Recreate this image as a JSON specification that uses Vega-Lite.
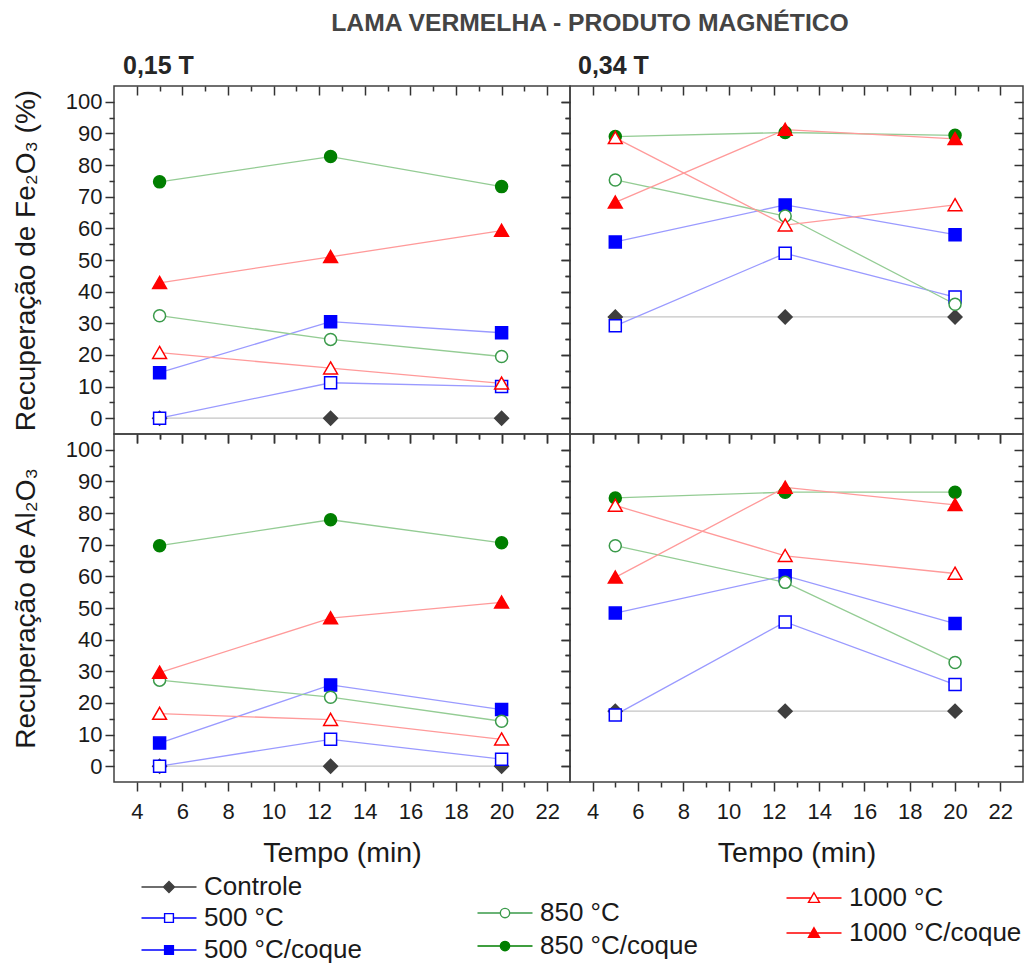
{
"$schema": "https://vega.github.io/schema/vega-lite/v6.json",
"padding": {"left": 11, "top": 10, "right": 2, "bottom": 2},
"background": "white",
"title": {"text": "LAMA VERMELHA - PRODUTO MAGNÉTICO", "font": "Liberation Sans", "fontSize": 24.7, "fontWeight": "bold", "color": "#444444", "anchor": "middle", "dx": 72, "offset": 18},
"config": {
  "view": {"stroke": "#404040", "strokeWidth": 1.5},
  "axis": {"domain": false, "grid": false, "tickColor": "#333333", "tickWidth": 1.5, "labelFont": "Liberation Sans", "labelFontSize": 22, "labelColor": "#1a1a1a", "titleFont": "Liberation Sans", "titleFontSize": 28, "titleFontWeight": "normal", "titleColor": "#1a1a1a"},
  "axisX": {"titleFontSize": 28.5},
  "legend": {"title": null, "padding": 0, "symbolSize": 121, "symbolStrokeWidth": 1.4, "symbolOffset": 28, "labelOffset": 22, "labelFont": "Liberation Sans", "labelFontSize": 26, "labelColor": "#1a1a1a", "labelLimit": 400},
  "title": {"font": "Liberation Sans"}
},
"datasets": {
"fe15": [
{"s":"Controle","t":5,"v":0},{"s":"Controle","t":12.5,"v":0},{"s":"Controle","t":20,"v":0},
{"s":"500 °C","t":5,"v":0},{"s":"500 °C","t":12.5,"v":11.2},{"s":"500 °C","t":20,"v":10},
{"s":"500 °C/coque","t":5,"v":14.4},{"s":"500 °C/coque","t":12.5,"v":30.5},{"s":"500 °C/coque","t":20,"v":27},
{"s":"850 °C","t":5,"v":32.4},{"s":"850 °C","t":12.5,"v":24.9},{"s":"850 °C","t":20,"v":19.5},
{"s":"850 °C/coque","t":5,"v":74.7},{"s":"850 °C/coque","t":12.5,"v":82.7},{"s":"850 °C/coque","t":20,"v":73.2},
{"s":"1000 °C","t":5,"v":20.7},{"s":"1000 °C","t":12.5,"v":15.8},{"s":"1000 °C","t":20,"v":11},
{"s":"1000 °C/coque","t":5,"v":42.8},{"s":"1000 °C/coque","t":12.5,"v":51},{"s":"1000 °C/coque","t":20,"v":59.3}
],
"fe34": [
{"s":"Controle","t":5,"v":32},{"s":"Controle","t":12.5,"v":32},{"s":"Controle","t":20,"v":32},
{"s":"500 °C","t":5,"v":29.2},{"s":"500 °C","t":12.5,"v":52.1},{"s":"500 °C","t":20,"v":38.3},
{"s":"500 °C/coque","t":5,"v":55.7},{"s":"500 °C/coque","t":12.5,"v":67.4},{"s":"500 °C/coque","t":20,"v":58},
{"s":"850 °C","t":5,"v":75.3},{"s":"850 °C","t":12.5,"v":63.9},{"s":"850 °C","t":20,"v":36},
{"s":"850 °C/coque","t":5,"v":89},{"s":"850 °C/coque","t":12.5,"v":90.3},{"s":"850 °C/coque","t":20,"v":89.4},
{"s":"1000 °C","t":5,"v":88.6},{"s":"1000 °C","t":12.5,"v":61},{"s":"1000 °C","t":20,"v":67.4},
{"s":"1000 °C/coque","t":5,"v":68.2},{"s":"1000 °C/coque","t":12.5,"v":91.2},{"s":"1000 °C/coque","t":20,"v":88.3}
],
"al15": [
{"s":"Controle","t":5,"v":0},{"s":"Controle","t":12.5,"v":0},{"s":"Controle","t":20,"v":0},
{"s":"500 °C","t":5,"v":0},{"s":"500 °C","t":12.5,"v":8.5},{"s":"500 °C","t":20,"v":2.2},
{"s":"500 °C/coque","t":5,"v":7.3},{"s":"500 °C/coque","t":12.5,"v":25.7},{"s":"500 °C/coque","t":20,"v":17.9},
{"s":"850 °C","t":5,"v":27.2},{"s":"850 °C","t":12.5,"v":21.8},{"s":"850 °C","t":20,"v":14.2},
{"s":"850 °C/coque","t":5,"v":69.7},{"s":"850 °C/coque","t":12.5,"v":77.9},{"s":"850 °C/coque","t":20,"v":70.6},
{"s":"1000 °C","t":5,"v":16.6},{"s":"1000 °C","t":12.5,"v":14.7},{"s":"1000 °C","t":20,"v":8.5},
{"s":"1000 °C/coque","t":5,"v":29.6},{"s":"1000 °C/coque","t":12.5,"v":46.8},{"s":"1000 °C/coque","t":20,"v":51.8}
],
"al34": [
{"s":"Controle","t":5,"v":17.4},{"s":"Controle","t":12.5,"v":17.4},{"s":"Controle","t":20,"v":17.4},
{"s":"500 °C","t":5,"v":16.2},{"s":"500 °C","t":12.5,"v":45.6},{"s":"500 °C","t":20,"v":25.8},
{"s":"500 °C/coque","t":5,"v":48.4},{"s":"500 °C/coque","t":12.5,"v":60.2},{"s":"500 °C/coque","t":20,"v":45.1},
{"s":"850 °C","t":5,"v":69.7},{"s":"850 °C","t":12.5,"v":58.1},{"s":"850 °C","t":20,"v":32.8},
{"s":"850 °C/coque","t":5,"v":84.8},{"s":"850 °C/coque","t":12.5,"v":86.6},{"s":"850 °C/coque","t":20,"v":86.6},
{"s":"1000 °C","t":5,"v":82.4},{"s":"1000 °C","t":12.5,"v":66.5},{"s":"1000 °C","t":20,"v":60.9},
{"s":"1000 °C/coque","t":5,"v":59.7},{"s":"1000 °C/coque","t":12.5,"v":88.1},{"s":"1000 °C/coque","t":20,"v":82.6}
]
},
"columns": 2,
"spacing": 0,
"bounds": "flush",
"resolve": {"scale": {"color": "independent", "shape": "independent", "fill": "independent", "stroke": "independent"}},
"concat": [
 {"width": 456, "height": 348,
  "title": {"text": "0,15 T", "anchor": "start", "frame": "group", "fontSize": 25, "fontWeight": "bold", "color": "#262626", "dx": 9, "offset": 6},
  "data": {"name": "fe15"},
  "resolve": {"axis": {"x": "independent", "y": "independent"}},
  "layer": [
   {"mark": {"type": "line", "strokeWidth": 1.3},
    "encoding": {
     "x": {"field": "t", "type": "quantitative", "scale": {"domain": [3, 23], "nice": false, "zero": false}, "axis": {"orient": "bottom", "values": [4,6,8,10,12,14,16,18,20,22], "tickSize": 9, "labels": false, "title": null}},
     "y": {"field": "v", "type": "quantitative", "scale": {"domain": [-5, 105], "nice": false, "zero": false}, "axis": {"orient": "left", "values": [0,10,20,30,40,50,60,70,80,90,100], "tickSize": 9, "labelPadding": 3, "title": "Recuperação de Fe₂O₃ (%)", "titlePadding": 25}},
     "color": {"field": "s", "type": "nominal", "scale": {"domain": ["Controle","500 °C","500 °C/coque","850 °C","850 °C/coque","1000 °C","1000 °C/coque"], "range": ["#c4c4c4","#9a9aff","#9a9aff","#94cc94","#94cc94","#ff9a9a","#ff9a9a"]}, "legend": null}
    }},
   {"mark": {"type": "point", "size": 144, "strokeWidth": 1.5, "opacity": 1},
    "encoding": {
     "x": {"field": "t", "type": "quantitative", "scale": {"domain": [3, 23], "nice": false, "zero": false}, "axis": {"orient": "top", "values": [4,6,8,10,12,14,16,18,20,22], "tickSize": -9, "labels": false, "title": null}},
     "y": {"field": "v", "type": "quantitative", "scale": {"domain": [-5, 105], "nice": false, "zero": false}, "axis": {"orient": "right", "values": [0,10,20,30,40,50,60,70,80,90,100], "tickSize": -9, "labels": false, "title": null}},
     "shape": {"field": "s", "type": "nominal", "scale": {"domain": ["Controle","500 °C","500 °C/coque","850 °C","850 °C/coque","1000 °C","1000 °C/coque"], "range": ["M-1.15,0L0,-1.15L1.15,0L0,1.15Z","square","square","circle","circle","M0,-1.05L1.15,0.95L-1.15,0.95Z","M0,-1.05L1.15,0.95L-1.15,0.95Z"]}, "legend": null},
     "fill": {"field": "s", "type": "nominal", "scale": {"domain": ["Controle","500 °C","500 °C/coque","850 °C","850 °C/coque","1000 °C","1000 °C/coque"], "range": ["#3f3f3f","#ffffff","#0000ff","#ffffff","#007f00","#ffffff","#ff0000"]}, "legend": null},
     "stroke": {"field": "s", "type": "nominal", "scale": {"domain": ["Controle","500 °C","500 °C/coque","850 °C","850 °C/coque","1000 °C","1000 °C/coque"], "range": ["#3f3f3f","#0000ff","#0000ff","#3a9a4a","#007f00","#ff0000","#ff0000"]}, "legend": null}
    }},
   {"mark": {"type": "point", "opacity": 0},
    "encoding": {
     "x": {"field": "t", "type": "quantitative", "scale": {"domain": [3, 23], "nice": false, "zero": false}, "axis": {"orient": "bottom", "values": [5,7,9,11,13,15,17,19,21], "tickSize": 5, "labels": false, "title": null}},
     "y": {"field": "v", "type": "quantitative", "scale": {"domain": [-5, 105], "nice": false, "zero": false}, "axis": {"orient": "left", "values": [5,15,25,35,45,55,65,75,85,95], "tickSize": 5, "labels": false, "title": null}}
    }},
   {"mark": {"type": "point", "opacity": 0},
    "encoding": {
     "x": {"field": "t", "type": "quantitative", "scale": {"domain": [3, 23], "nice": false, "zero": false}, "axis": {"orient": "top", "values": [5,7,9,11,13,15,17,19,21], "tickSize": -5, "labels": false, "title": null}},
     "y": {"field": "v", "type": "quantitative", "scale": {"domain": [-5, 105], "nice": false, "zero": false}, "axis": {"orient": "right", "values": [5,15,25,35,45,55,65,75,85,95], "tickSize": -5, "labels": false, "title": null}}
    }}
  ]},
 {"width": 453, "height": 348,
  "title": {"text": "0,34 T", "anchor": "start", "frame": "group", "fontSize": 25, "fontWeight": "bold", "color": "#262626", "dx": 8, "offset": 6},
  "data": {"name": "fe34"},
  "resolve": {"axis": {"x": "independent", "y": "independent"}},
  "layer": [
   {"mark": {"type": "line", "strokeWidth": 1.3},
    "encoding": {
     "x": {"field": "t", "type": "quantitative", "scale": {"domain": [3, 23], "nice": false, "zero": false}, "axis": {"orient": "bottom", "values": [4,6,8,10,12,14,16,18,20,22], "tickSize": 9, "labels": false, "title": null}},
     "y": {"field": "v", "type": "quantitative", "scale": {"domain": [-5, 105], "nice": false, "zero": false}, "axis": {"orient": "left", "values": [0,10,20,30,40,50,60,70,80,90,100], "tickSize": 9, "labels": false, "title": null}},
     "color": {"field": "s", "type": "nominal", "scale": {"domain": ["Controle","500 °C","500 °C/coque","850 °C","850 °C/coque","1000 °C","1000 °C/coque"], "range": ["#c4c4c4","#9a9aff","#9a9aff","#94cc94","#94cc94","#ff9a9a","#ff9a9a"]}, "legend": null}
    }},
   {"mark": {"type": "point", "size": 144, "strokeWidth": 1.5, "opacity": 1},
    "encoding": {
     "x": {"field": "t", "type": "quantitative", "scale": {"domain": [3, 23], "nice": false, "zero": false}, "axis": {"orient": "top", "values": [4,6,8,10,12,14,16,18,20,22], "tickSize": -9, "labels": false, "title": null}},
     "y": {"field": "v", "type": "quantitative", "scale": {"domain": [-5, 105], "nice": false, "zero": false}, "axis": {"orient": "right", "values": [0,10,20,30,40,50,60,70,80,90,100], "tickSize": -9, "labels": false, "title": null}},
     "shape": {"field": "s", "type": "nominal", "scale": {"domain": ["Controle","500 °C","500 °C/coque","850 °C","850 °C/coque","1000 °C","1000 °C/coque"], "range": ["M-1.15,0L0,-1.15L1.15,0L0,1.15Z","square","square","circle","circle","M0,-1.05L1.15,0.95L-1.15,0.95Z","M0,-1.05L1.15,0.95L-1.15,0.95Z"]}, "legend": null},
     "fill": {"field": "s", "type": "nominal", "scale": {"domain": ["Controle","500 °C","500 °C/coque","850 °C","850 °C/coque","1000 °C","1000 °C/coque"], "range": ["#3f3f3f","#ffffff","#0000ff","#ffffff","#007f00","#ffffff","#ff0000"]}, "legend": null},
     "stroke": {"field": "s", "type": "nominal", "scale": {"domain": ["Controle","500 °C","500 °C/coque","850 °C","850 °C/coque","1000 °C","1000 °C/coque"], "range": ["#3f3f3f","#0000ff","#0000ff","#3a9a4a","#007f00","#ff0000","#ff0000"]}, "legend": null}
    }},
   {"mark": {"type": "point", "opacity": 0},
    "encoding": {
     "x": {"field": "t", "type": "quantitative", "scale": {"domain": [3, 23], "nice": false, "zero": false}, "axis": {"orient": "bottom", "values": [5,7,9,11,13,15,17,19,21], "tickSize": 5, "labels": false, "title": null}},
     "y": {"field": "v", "type": "quantitative", "scale": {"domain": [-5, 105], "nice": false, "zero": false}, "axis": {"orient": "left", "values": [5,15,25,35,45,55,65,75,85,95], "tickSize": 5, "labels": false, "title": null}}
    }},
   {"mark": {"type": "point", "opacity": 0},
    "encoding": {
     "x": {"field": "t", "type": "quantitative", "scale": {"domain": [3, 23], "nice": false, "zero": false}, "axis": {"orient": "top", "values": [5,7,9,11,13,15,17,19,21], "tickSize": -5, "labels": false, "title": null}},
     "y": {"field": "v", "type": "quantitative", "scale": {"domain": [-5, 105], "nice": false, "zero": false}, "axis": {"orient": "right", "values": [5,15,25,35,45,55,65,75,85,95], "tickSize": -5, "labels": false, "title": null}}
    }}
  ]},
 {"width": 456, "height": 348,
  "data": {"name": "al15"},
  "resolve": {"axis": {"x": "independent", "y": "independent"}, "scale": {"shape": "independent", "fill": "independent", "stroke": "independent"}},
  "layer": [
   {"mark": {"type": "line", "strokeWidth": 1.3},
    "encoding": {
     "x": {"field": "t", "type": "quantitative", "scale": {"domain": [3, 23], "nice": false, "zero": false}, "axis": {"orient": "bottom", "values": [4,6,8,10,12,14,16,18,20,22], "tickSize": 9, "labelPadding": 10, "title": "Tempo (min)", "titlePadding": 16}},
     "y": {"field": "v", "type": "quantitative", "scale": {"domain": [-5, 105], "nice": false, "zero": false}, "axis": {"orient": "left", "values": [0,10,20,30,40,50,60,70,80,90,100], "tickSize": 9, "labelPadding": 3, "title": "Recuperação de Al₂O₃", "titlePadding": 25}},
     "color": {"field": "s", "type": "nominal", "scale": {"domain": ["Controle","500 °C","500 °C/coque","850 °C","850 °C/coque","1000 °C","1000 °C/coque"], "range": ["#c4c4c4","#9a9aff","#9a9aff","#94cc94","#94cc94","#ff9a9a","#ff9a9a"]}, "legend": null}
    }},
   {"transform": [{"filter": {"field": "s", "equal": "Controle"}}],
    "mark": {"type": "point", "size": 144, "strokeWidth": 1.5, "opacity": 1},
    "encoding": {
     "x": {"field": "t", "type": "quantitative", "scale": {"domain": [3, 23], "nice": false, "zero": false}, "axis": {"orient": "top", "values": [4,6,8,10,12,14,16,18,20,22], "tickSize": -9, "labels": false, "title": null}},
     "y": {"field": "v", "type": "quantitative", "scale": {"domain": [-5, 105], "nice": false, "zero": false}, "axis": {"orient": "right", "values": [0,10,20,30,40,50,60,70,80,90,100], "tickSize": -9, "labels": false, "title": null}},
     "shape": {"field": "s", "type": "nominal", "scale": {"domain": ["Controle", "~"], "range": ["M-1.15,0L0,-1.15L1.15,0L0,1.15Z","M-1.15,0L0,-1.15L1.15,0L0,1.15Z"]}, "legend": null},
     "fill": {"field": "s", "type": "nominal", "scale": {"domain": ["Controle"], "range": ["#3f3f3f"]}, "legend": {"orient": "none", "legendX": 14, "legendY": 440, "symbolType": "M-5,0H5M0,-1L1,0L0,1L-1,0Z"}},
     "stroke": {"field": "s", "type": "nominal", "scale": {"domain": ["Controle"], "range": ["#3f3f3f"]}, "legend": {"orient": "none", "legendX": 14, "legendY": 440, "symbolType": "M-5,0H5M0,-1L1,0L0,1L-1,0Z"}}
    }},
   {"transform": [{"filter": {"field": "s", "equal": "500 °C"}}],
    "mark": {"type": "point", "size": 144, "strokeWidth": 1.5, "opacity": 1},
    "encoding": {
     "x": {"field": "t", "type": "quantitative", "scale": {"domain": [3, 23], "nice": false, "zero": false}, "axis": null},
     "y": {"field": "v", "type": "quantitative", "scale": {"domain": [-5, 105], "nice": false, "zero": false}, "axis": null},
     "shape": {"field": "s", "type": "nominal", "scale": {"domain": ["500 °C", "~"], "range": ["square","square"]}, "legend": null},
     "fill": {"field": "s", "type": "nominal", "scale": {"domain": ["500 °C"], "range": ["#ffffff"]}, "legend": {"orient": "none", "legendX": 14, "legendY": 471, "symbolType": "M-5,0H-0.8M0.8,0H5M-0.8,-0.8H0.8V0.8H-0.8Z"}},
     "stroke": {"field": "s", "type": "nominal", "scale": {"domain": ["500 °C"], "range": ["#0000ff"]}, "legend": {"orient": "none", "legendX": 14, "legendY": 471, "symbolType": "M-5,0H-0.8M0.8,0H5M-0.8,-0.8H0.8V0.8H-0.8Z"}}
    }},
   {"transform": [{"filter": {"field": "s", "equal": "500 °C/coque"}}],
    "mark": {"type": "point", "size": 144, "strokeWidth": 1.5, "opacity": 1},
    "encoding": {
     "x": {"field": "t", "type": "quantitative", "scale": {"domain": [3, 23], "nice": false, "zero": false}, "axis": null},
     "y": {"field": "v", "type": "quantitative", "scale": {"domain": [-5, 105], "nice": false, "zero": false}, "axis": null},
     "shape": {"field": "s", "type": "nominal", "scale": {"domain": ["500 °C/coque", "~"], "range": ["square","square"]}, "legend": null},
     "fill": {"field": "s", "type": "nominal", "scale": {"domain": ["500 °C/coque"], "range": ["#0000ff"]}, "legend": {"orient": "none", "legendX": 14, "legendY": 503, "symbolType": "M-5,0H5M-0.8,-0.8H0.8V0.8H-0.8Z"}},
     "stroke": {"field": "s", "type": "nominal", "scale": {"domain": ["500 °C/coque"], "range": ["#0000ff"]}, "legend": {"orient": "none", "legendX": 14, "legendY": 503, "symbolType": "M-5,0H5M-0.8,-0.8H0.8V0.8H-0.8Z"}}
    }},
   {"transform": [{"filter": {"field": "s", "equal": "850 °C"}}],
    "mark": {"type": "point", "size": 144, "strokeWidth": 1.5, "opacity": 1},
    "encoding": {
     "x": {"field": "t", "type": "quantitative", "scale": {"domain": [3, 23], "nice": false, "zero": false}, "axis": null},
     "y": {"field": "v", "type": "quantitative", "scale": {"domain": [-5, 105], "nice": false, "zero": false}, "axis": null},
     "shape": {"field": "s", "type": "nominal", "scale": {"domain": ["850 °C", "~"], "range": ["circle","circle"]}, "legend": null},
     "fill": {"field": "s", "type": "nominal", "scale": {"domain": ["850 °C"], "range": ["#ffffff"]}, "legend": {"orient": "none", "legendX": 350, "legendY": 466, "symbolType": "M-5,0H-0.85M0.85,0H5M-0.85,0A0.85,0.85,0,1,1,0.85,0A0.85,0.85,0,1,1,-0.85,0Z"}},
     "stroke": {"field": "s", "type": "nominal", "scale": {"domain": ["850 °C"], "range": ["#3a9a4a"]}, "legend": {"orient": "none", "legendX": 350, "legendY": 466, "symbolType": "M-5,0H-0.85M0.85,0H5M-0.85,0A0.85,0.85,0,1,1,0.85,0A0.85,0.85,0,1,1,-0.85,0Z"}}
    }},
   {"transform": [{"filter": {"field": "s", "equal": "850 °C/coque"}}],
    "mark": {"type": "point", "size": 144, "strokeWidth": 1.5, "opacity": 1},
    "encoding": {
     "x": {"field": "t", "type": "quantitative", "scale": {"domain": [3, 23], "nice": false, "zero": false}, "axis": null},
     "y": {"field": "v", "type": "quantitative", "scale": {"domain": [-5, 105], "nice": false, "zero": false}, "axis": null},
     "shape": {"field": "s", "type": "nominal", "scale": {"domain": ["850 °C/coque", "~"], "range": ["circle","circle"]}, "legend": null},
     "fill": {"field": "s", "type": "nominal", "scale": {"domain": ["850 °C/coque"], "range": ["#007f00"]}, "legend": {"orient": "none", "legendX": 350, "legendY": 499, "symbolType": "M-5,0H5M-0.85,0A0.85,0.85,0,1,1,0.85,0A0.85,0.85,0,1,1,-0.85,0Z"}},
     "stroke": {"field": "s", "type": "nominal", "scale": {"domain": ["850 °C/coque"], "range": ["#007f00"]}, "legend": {"orient": "none", "legendX": 350, "legendY": 499, "symbolType": "M-5,0H5M-0.85,0A0.85,0.85,0,1,1,0.85,0A0.85,0.85,0,1,1,-0.85,0Z"}}
    }},
   {"transform": [{"filter": {"field": "s", "equal": "1000 °C"}}],
    "mark": {"type": "point", "size": 144, "strokeWidth": 1.5, "opacity": 1},
    "encoding": {
     "x": {"field": "t", "type": "quantitative", "scale": {"domain": [3, 23], "nice": false, "zero": false}, "axis": null},
     "y": {"field": "v", "type": "quantitative", "scale": {"domain": [-5, 105], "nice": false, "zero": false}, "axis": null},
     "shape": {"field": "s", "type": "nominal", "scale": {"domain": ["1000 °C", "~"], "range": ["M0,-1.05L1.15,0.95L-1.15,0.95Z","M0,-1.05L1.15,0.95L-1.15,0.95Z"]}, "legend": null},
     "fill": {"field": "s", "type": "nominal", "scale": {"domain": ["1000 °C"], "range": ["#ffffff"]}, "legend": {"orient": "none", "legendX": 659, "legendY": 451, "symbolType": "M-5,0H-0.55M0.55,0H5M0,-0.95L1,0.8H-1Z"}},
     "stroke": {"field": "s", "type": "nominal", "scale": {"domain": ["1000 °C"], "range": ["#ff0000"]}, "legend": {"orient": "none", "legendX": 659, "legendY": 451, "symbolType": "M-5,0H-0.55M0.55,0H5M0,-0.95L1,0.8H-1Z"}}
    }},
   {"transform": [{"filter": {"field": "s", "equal": "1000 °C/coque"}}],
    "mark": {"type": "point", "size": 144, "strokeWidth": 1.5, "opacity": 1},
    "encoding": {
     "x": {"field": "t", "type": "quantitative", "scale": {"domain": [3, 23], "nice": false, "zero": false}, "axis": null},
     "y": {"field": "v", "type": "quantitative", "scale": {"domain": [-5, 105], "nice": false, "zero": false}, "axis": null},
     "shape": {"field": "s", "type": "nominal", "scale": {"domain": ["1000 °C/coque", "~"], "range": ["M0,-1.05L1.15,0.95L-1.15,0.95Z","M0,-1.05L1.15,0.95L-1.15,0.95Z"]}, "legend": null},
     "fill": {"field": "s", "type": "nominal", "scale": {"domain": ["1000 °C/coque"], "range": ["#ff0000"]}, "legend": {"orient": "none", "legendX": 659, "legendY": 486, "symbolType": "M-5,0H5M0,-0.95L1,0.8H-1Z"}},
     "stroke": {"field": "s", "type": "nominal", "scale": {"domain": ["1000 °C/coque"], "range": ["#ff0000"]}, "legend": {"orient": "none", "legendX": 659, "legendY": 486, "symbolType": "M-5,0H5M0,-0.95L1,0.8H-1Z"}}
    }},
   {"mark": {"type": "point", "opacity": 0},
    "encoding": {
     "x": {"field": "t", "type": "quantitative", "scale": {"domain": [3, 23], "nice": false, "zero": false}, "axis": {"orient": "bottom", "values": [5,7,9,11,13,15,17,19,21], "tickSize": 5, "labels": false, "title": null}},
     "y": {"field": "v", "type": "quantitative", "scale": {"domain": [-5, 105], "nice": false, "zero": false}, "axis": {"orient": "left", "values": [5,15,25,35,45,55,65,75,85,95], "tickSize": 5, "labels": false, "title": null}}
    }},
   {"mark": {"type": "point", "opacity": 0},
    "encoding": {
     "x": {"field": "t", "type": "quantitative", "scale": {"domain": [3, 23], "nice": false, "zero": false}, "axis": {"orient": "top", "values": [5,7,9,11,13,15,17,19,21], "tickSize": -5, "labels": false, "title": null}},
     "y": {"field": "v", "type": "quantitative", "scale": {"domain": [-5, 105], "nice": false, "zero": false}, "axis": {"orient": "right", "values": [5,15,25,35,45,55,65,75,85,95], "tickSize": -5, "labels": false, "title": null}}
    }}
  ]},
 {"width": 453, "height": 348,
  "data": {"name": "al34"},
  "resolve": {"axis": {"x": "independent", "y": "independent"}},
  "layer": [
   {"mark": {"type": "line", "strokeWidth": 1.3},
    "encoding": {
     "x": {"field": "t", "type": "quantitative", "scale": {"domain": [3, 23], "nice": false, "zero": false}, "axis": {"orient": "bottom", "values": [4,6,8,10,12,14,16,18,20,22], "tickSize": 9, "labelPadding": 10, "title": "Tempo (min)", "titlePadding": 16}},
     "y": {"field": "v", "type": "quantitative", "scale": {"domain": [-5, 105], "nice": false, "zero": false}, "axis": {"orient": "left", "values": [0,10,20,30,40,50,60,70,80,90,100], "tickSize": 9, "labels": false, "title": null}},
     "color": {"field": "s", "type": "nominal", "scale": {"domain": ["Controle","500 °C","500 °C/coque","850 °C","850 °C/coque","1000 °C","1000 °C/coque"], "range": ["#c4c4c4","#9a9aff","#9a9aff","#94cc94","#94cc94","#ff9a9a","#ff9a9a"]}, "legend": null}
    }},
   {"mark": {"type": "point", "size": 144, "strokeWidth": 1.5, "opacity": 1},
    "encoding": {
     "x": {"field": "t", "type": "quantitative", "scale": {"domain": [3, 23], "nice": false, "zero": false}, "axis": {"orient": "top", "values": [4,6,8,10,12,14,16,18,20,22], "tickSize": -9, "labels": false, "title": null}},
     "y": {"field": "v", "type": "quantitative", "scale": {"domain": [-5, 105], "nice": false, "zero": false}, "axis": {"orient": "right", "values": [0,10,20,30,40,50,60,70,80,90,100], "tickSize": -9, "labels": false, "title": null}},
     "shape": {"field": "s", "type": "nominal", "scale": {"domain": ["Controle","500 °C","500 °C/coque","850 °C","850 °C/coque","1000 °C","1000 °C/coque"], "range": ["M-1.15,0L0,-1.15L1.15,0L0,1.15Z","square","square","circle","circle","M0,-1.05L1.15,0.95L-1.15,0.95Z","M0,-1.05L1.15,0.95L-1.15,0.95Z"]}, "legend": null},
     "fill": {"field": "s", "type": "nominal", "scale": {"domain": ["Controle","500 °C","500 °C/coque","850 °C","850 °C/coque","1000 °C","1000 °C/coque"], "range": ["#3f3f3f","#ffffff","#0000ff","#ffffff","#007f00","#ffffff","#ff0000"]}, "legend": null},
     "stroke": {"field": "s", "type": "nominal", "scale": {"domain": ["Controle","500 °C","500 °C/coque","850 °C","850 °C/coque","1000 °C","1000 °C/coque"], "range": ["#3f3f3f","#0000ff","#0000ff","#3a9a4a","#007f00","#ff0000","#ff0000"]}, "legend": null}
    }},
   {"mark": {"type": "point", "opacity": 0},
    "encoding": {
     "x": {"field": "t", "type": "quantitative", "scale": {"domain": [3, 23], "nice": false, "zero": false}, "axis": {"orient": "bottom", "values": [5,7,9,11,13,15,17,19,21], "tickSize": 5, "labels": false, "title": null}},
     "y": {"field": "v", "type": "quantitative", "scale": {"domain": [-5, 105], "nice": false, "zero": false}, "axis": {"orient": "left", "values": [5,15,25,35,45,55,65,75,85,95], "tickSize": 5, "labels": false, "title": null}}
    }},
   {"mark": {"type": "point", "opacity": 0},
    "encoding": {
     "x": {"field": "t", "type": "quantitative", "scale": {"domain": [3, 23], "nice": false, "zero": false}, "axis": {"orient": "top", "values": [5,7,9,11,13,15,17,19,21], "tickSize": -5, "labels": false, "title": null}},
     "y": {"field": "v", "type": "quantitative", "scale": {"domain": [-5, 105], "nice": false, "zero": false}, "axis": {"orient": "right", "values": [5,15,25,35,45,55,65,75,85,95], "tickSize": -5, "labels": false, "title": null}}
    }}
  ]}
]
}
